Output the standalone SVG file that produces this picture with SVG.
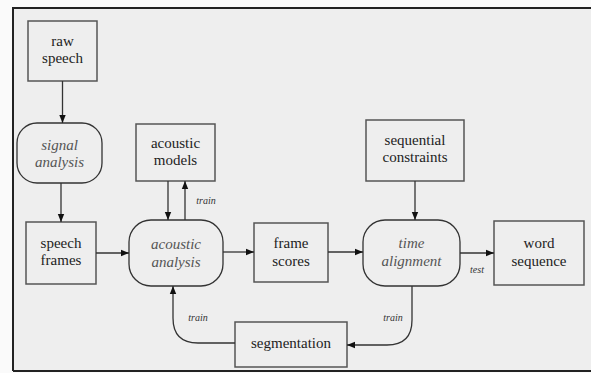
<svg xmlns="http://www.w3.org/2000/svg" width="591" height="373" viewBox="0 0 591 373">
<defs>
<marker id="ah" viewBox="0 0 10 10" refX="10" refY="5" markerWidth="8" markerHeight="8" markerUnits="userSpaceOnUse" orient="auto">
<path d="M0,1 L10,5 L0,9 z" fill="#111"/>
</marker>
<style>
.box{fill:none;stroke:#555;stroke-width:1.5}
.proc{fill:none;stroke:#333;stroke-width:1.3}
.t{font-size:15px;fill:#222;text-anchor:middle}
.it{font-size:15px;font-style:italic;fill:#555;text-anchor:middle}
.sm{font-size:10px;font-style:italic;fill:#333;text-anchor:middle}
.c{fill:none;stroke:#333;stroke-width:1.3;marker-end:url(#ah)}
</style>
</defs>
<rect x="0" y="0" width="591" height="373" fill="#fafafa"/>
<rect x="13" y="8" width="580" height="363" fill="#eeeeee"/>
<path d="M13,371 L13,8 L591,8" fill="none" stroke="#222" stroke-width="2"/>
<line x1="13" y1="371" x2="591" y2="371" stroke="#222" stroke-width="2"/>
<g font-family="Liberation Serif, DejaVu Serif, serif">
<g id="raw-speech"><rect class="box" x="28" y="21" width="69" height="60"/><text class="t" x="62.5" y="46">raw</text><text class="t" x="62.5" y="63">speech</text></g>
<g id="signal-analysis"><rect class="proc" x="17" y="123" width="85" height="60" rx="20"/><text class="it" x="59.5" y="150">signal</text><text class="it" x="59.5" y="167">analysis</text></g>
<g id="speech-frames"><rect class="box" x="26" y="222" width="70" height="62"/><text class="t" x="61" y="248">speech</text><text class="t" x="61" y="265">frames</text></g>
<g id="acoustic-models"><rect class="box" x="136" y="124" width="79" height="57"/><text class="t" x="175.5" y="148">acoustic</text><text class="t" x="175.5" y="165">models</text></g>
<g id="acoustic-analysis"><rect class="proc" x="129" y="220" width="94" height="66" rx="22"/><text class="it" x="176" y="249">acoustic</text><text class="it" x="176" y="267">analysis</text></g>
<g id="frame-scores"><rect class="box" x="254" y="223" width="74" height="59"/><text class="t" x="291" y="248">frame</text><text class="t" x="291" y="266">scores</text></g>
<g id="sequential-constraints"><rect class="box" x="366" y="120" width="98" height="61"/><text class="t" x="415" y="145">sequential</text><text class="t" x="415" y="162">constraints</text></g>
<g id="time-alignment"><rect class="proc" x="363" y="220" width="97" height="66" rx="22"/><text class="it" x="411.5" y="248">time</text><text class="it" x="411.5" y="266">alignment</text></g>
<g id="word-sequence"><rect class="box" x="494" y="221" width="90" height="64"/><text class="t" x="539" y="248">word</text><text class="t" x="539" y="266">sequence</text></g>
<g id="segmentation"><rect class="box" x="235" y="322" width="112" height="45"/><text class="t" x="291" y="348">segmentation</text></g>

<g id="connectors">
<line class="c" x1="62.5" y1="81" x2="62.5" y2="123"/>
<line class="c" x1="61" y1="183" x2="61" y2="222"/>
<line class="c" x1="96" y1="253" x2="129" y2="253"/>
<line class="c" x1="168" y1="181" x2="168" y2="220"/>
<line class="c" x1="185" y1="220" x2="185" y2="181"/>
<text class="sm" x="206" y="204">train</text>
<line class="c" x1="223" y1="252" x2="254" y2="252"/>
<line class="c" x1="328" y1="252" x2="363" y2="252"/>
<line class="c" x1="415" y1="181" x2="415" y2="220"/>
<line class="c" x1="460" y1="253" x2="494" y2="253"/>
<text class="sm" x="477" y="273">test</text>
<path class="c" d="M412,286 L412,320 Q412,345 387,345 L347,345"/>
<text class="sm" x="393" y="321">train</text>
<path class="c" d="M235,343 L198,343 Q173,343 173,318 L173,286"/>
<text class="sm" x="198" y="321">train</text>
</g>
</g>
</svg>
